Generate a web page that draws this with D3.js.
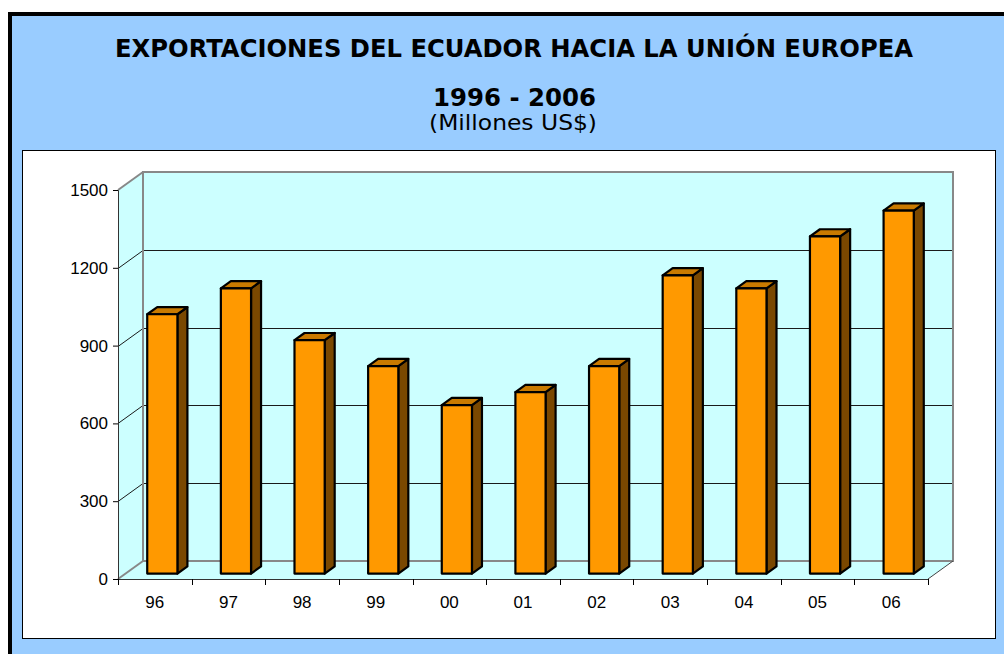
<!DOCTYPE html>
<html>
<head>
<meta charset="utf-8">
<script src="https://cdn.jsdelivr.net/npm/d3@7"></script>
<style>
  body { margin: 0; background: #fff; }
  svg { display: block; }
  .axis text { font-family: Tahoma, "Liberation Sans", Arial, sans-serif; font-size: 17px; fill: #000; }
</style>
</head>
<body>
<script>
// data (millones US$)
var years = ["96", "97", "98", "99", "00", "01", "02", "03", "04", "05", "06"];
var exportsUE = [1000, 1100, 900, 800, 650, 700, 800, 1150, 1100, 1300, 1400];
var yTicks = [0, 300, 600, 900, 1200, 1500];

var W = 1004, H = 654;
var DX = 25, DY = 18; // depth of the 3d box

var svg = d3.select("body").append("svg")
    .attr("width", W)
    .attr("height", H);

// outer frame
svg.append("rect")
    .attr("x", 10).attr("y", 14)
    .attr("width", 1010).attr("height", 660)
    .attr("fill", "#99CCFF")
    .attr("stroke", "#000")
    .attr("stroke-width", 4);

// white plot panel
svg.append("rect")
    .attr("x", 22.5).attr("y", 150.5)
    .attr("width", 973).attr("height", 488)
    .attr("fill", "#fff")
    .attr("stroke", "#000")
    .attr("stroke-width", 1);

// titles
var titleFont = "'DejaVu Sans', Verdana, sans-serif";
svg.append("text")
    .attr("x", 115).attr("y", 57)
    .attr("textLength", 798).attr("lengthAdjust", "spacingAndGlyphs")
    .style("font-family", titleFont).style("font-weight", "bold").style("font-size", "25px")
    .text("EXPORTACIONES DEL ECUADOR HACIA LA UNIÓN EUROPEA");
svg.append("text")
    .attr("x", 433).attr("y", 106)
    .attr("textLength", 163).attr("lengthAdjust", "spacingAndGlyphs")
    .style("font-family", titleFont).style("font-weight", "bold").style("font-size", "25px")
    .text("1996 - 2006");
svg.append("text")
    .attr("x", 429).attr("y", 130)
    .attr("textLength", 168).attr("lengthAdjust", "spacingAndGlyphs")
    .style("font-family", titleFont).style("font-size", "21px")
    .text("(Millones US$)");

// scales
var x = d3.scaleBand()
    .domain(years)
    .range([118, 928])
    .padding(0);

var y = d3.scaleLinear()
    .domain([0, 1500])
    .range([579, 190]);

var x0 = x.range()[0], x1 = x.range()[1];
var yb = y(0), yt = y(1500);

function pts(a) { return a.map(function (p) { return p.join(","); }).join(" "); }

// back wall, left wall and floor
svg.append("polygon")
    .attr("points", pts([[x0, yb], [x1, yb], [x1 + DX, yb - DY], [x0 + DX, yb - DY]]))
    .attr("fill", "#CCFFFF");
svg.append("polygon")
    .attr("points", pts([[x0, yb], [x0, yt], [x0 + DX, yt - DY], [x0 + DX, yb - DY]]))
    .attr("fill", "#CCFFFF");
svg.append("rect")
    .attr("x", x0 + DX).attr("y", yt - DY)
    .attr("width", x1 - x0).attr("height", yb - yt)
    .attr("fill", "#CCFFFF");

// gridlines
var grid = svg.append("g").attr("stroke", "#1a1a1a").attr("stroke-width", 1);
yTicks.filter(function (t) { return t > 0 && t < 1500; }).forEach(function (t) {
    var yy = Math.round(y(t)) + 0.5;
    grid.append("line")
        .attr("x1", x0 + DX).attr("x2", x1 + DX)
        .attr("y1", yy - DY).attr("y2", yy - DY);
    grid.append("line")
        .attr("x1", x0).attr("x2", x0 + DX)
        .attr("y1", yy).attr("y2", yy - DY);
});

// gray edges of the box
var edge = svg.append("g").attr("stroke", "#888").attr("stroke-width", 2).attr("fill", "none");
edge.append("rect")
    .attr("x", x0 + DX).attr("y", yt - DY)
    .attr("width", x1 - x0).attr("height", yb - yt);
edge.append("line").attr("x1", x0).attr("y1", yt).attr("x2", x0 + DX).attr("y2", yt - DY);
edge.append("line").attr("x1", x0).attr("y1", yb).attr("x2", x0 + DX).attr("y2", yb - DY);
edge.append("line").attr("x1", x1).attr("y1", yb).attr("x2", x1 + DX).attr("y2", yb - DY)
    .attr("stroke", "#444").attr("stroke-width", 1);

// bars
var bw = x.bandwidth();
var faceW = bw * 0.41;
var off = 0.3, depth = 0.4;
var bdx = DX * depth, bdy = DY * depth;

var bars = svg.selectAll("g.bar")
    .data(years.map(function (d, i) { return { year: d, value: exportsUE[i] }; }))
    .enter().append("g")
    .attr("class", "bar")
    .attr("stroke", "#000")
    .attr("stroke-width", 2.2)
    .attr("stroke-linejoin", "round");

function faceX(d) { return x(d.year) + bw / 2 - faceW / 2 + DX * off; }
function faceTop(d) { return y(d.value) - DY * off; }
function faceBot() { return y(0) - DY * off; }

bars.append("polygon")
    .attr("fill", "#7A4800")
    .attr("points", function (d) {
        var a = faceX(d) + faceW;
        return pts([[a, faceTop(d)], [a + bdx, faceTop(d) - bdy], [a + bdx, faceBot() - bdy], [a, faceBot()]]);
    });
bars.append("polygon")
    .attr("fill", "#C97A00")
    .attr("points", function (d) {
        var a = faceX(d);
        return pts([[a, faceTop(d)], [a + faceW, faceTop(d)], [a + faceW + bdx, faceTop(d) - bdy], [a + bdx, faceTop(d) - bdy]]);
    });
bars.append("rect")
    .attr("fill", "#FF9900")
    .attr("x", faceX)
    .attr("y", faceTop)
    .attr("width", faceW)
    .attr("height", function (d) { return faceBot() - faceTop(d); });

// axes
var yAxis = d3.axisLeft(y)
    .tickValues(yTicks)
    .tickSize(5)
    .tickPadding(5)
    .tickFormat(d3.format("d"));

var gy = svg.append("g")
    .attr("class", "axis")
    .attr("transform", "translate(" + x0 + ",0)")
    .call(yAxis);
gy.select(".domain").attr("stroke", "#333");
gy.selectAll(".tick line").attr("stroke", "#000");

var xAxis = d3.axisBottom(x)
    .tickSize(0)
    .tickPadding(17);

var gx = svg.append("g")
    .attr("class", "axis")
    .attr("transform", "translate(0," + yb + ")")
    .call(xAxis);
gx.select(".domain").attr("stroke", "#333");

// category boundary ticks
gx.selectAll("line.sep")
    .data(years.map(function (d) { return x(d); }).concat([x1]))
    .enter().append("line")
    .attr("class", "sep")
    .attr("x1", function (d) { return Math.round(d) + 0.5; })
    .attr("x2", function (d) { return Math.round(d) + 0.5; })
    .attr("y1", 0).attr("y2", 6)
    .attr("stroke", "#000");
</script>
</body>
</html>
